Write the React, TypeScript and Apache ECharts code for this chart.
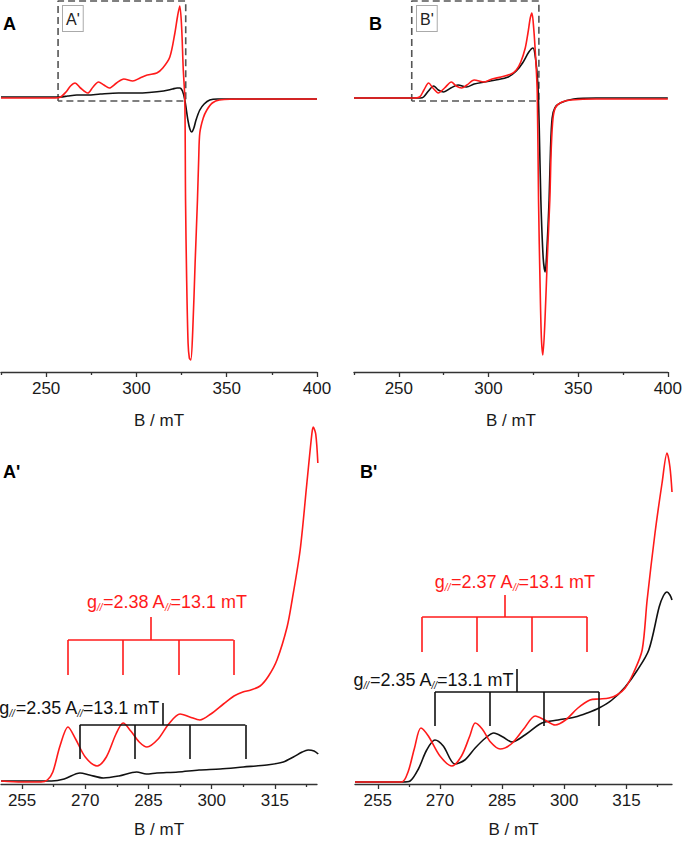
import React, { useEffect, useRef } from "react";
import * as echarts from "echarts";

const FONT = "'Liberation Sans', Arial, Helvetica, sans-serif";
const RED = "#ff1a1a";
const BLACK = "#111111";

// ---------- Top panels (full spectra), x: B / mT, y: intensity (a.u.) ----------
const topTickLabels = [250, 300, 350, 400];
const topMinorTicks = [225, 275, 325, 375];

const topA_red: [number, number][] = [
  [225, 0], [245, 0], [255, 0], [258, 1], [261, 6], [263.5, 12], [266, 15], [269, 10], [273, 5],
  [276, 11], [279, 16], [282, 13], [285, 10], [289, 15], [293, 19], [298, 17], [302, 20], [306, 23],
  [311.3, 25], [314.6, 30], [318.5, 41], [321.3, 65], [322.8, 82], [324, 92], [325, 72], [325.9, 30],
  [326.8, -2], [327.2, -102], [327.8, -180], [328.6, -245], [329.3, -260], [330.1, -262], [331.2, -232],
  [332.5, -165], [333.8, -102], [334.5, -60], [335.1, -35], [337, -20], [339, -12], [342, -5], [346, -2],
  [360, -1], [400, -1],
];
const topA_black: [number, number][] = [
  [225, 1], [255, 1], [258, 1], [262, 2], [267, 3], [273, 3], [280, 4], [290, 5], [300, 5], [307, 5.5],
  [315, 7], [320, 9], [322.5, 10], [324, 10], [325.5, 7], [326.8, -2], [328.5, -22], [329.6, -31],
  [330.6, -34], [331.8, -30], [333, -22], [335.1, -12], [337.5, -6], [340.6, -2], [345, -1], [400, -1],
];
const topB_red: [number, number][] = [
  [225, 0], [258, 0], [261.6, 1], [264, 8], [266.6, 15], [269, 10], [272, 5], [275.5, 10], [279.3, 16],
  [282, 12], [285, 10], [288, 13], [292, 18], [297.6, 16], [302, 19], [307, 21], [312.6, 24], [315.5, 28],
  [318, 36], [320.5, 50], [322, 65], [323.3, 80], [324.2, 85], [325.2, 70], [326.3, 40], [327.2, 5],
  [327.9, -102], [328.8, -190], [329.5, -240], [330.3, -257], [331.5, -222], [332.8, -160], [334.2, -102],
  [335, -50], [336, -20], [337.5, -9], [341, -4], [346, -2], [360, -1], [400, -1],
];
const topB_black: [number, number][] = [
  [225, 0], [262, 0], [263.8, 1], [266.5, 7], [269.4, 12], [272, 8], [275, 6], [279, 10], [283, 13],
  [287.7, 11], [292, 14], [297.6, 16], [304, 18], [311, 21], [315.5, 27], [319, 35], [322.5, 46],
  [324.8, 50], [326.2, 40], [327.5, 15], [328.3, -30], [329.2, -102], [330.5, -160], [331.6, -174],
  [332.6, -150], [333.8, -102], [334.6, -50], [335.5, -20], [337, -10], [340, -5], [347.5, -1], [360, 0],
  [400, 0],
];
// zoom boxes (B range, intensity range)
const boxA = { b0: 256.6, b1: 327.3, i0: -3, i1: 97 };
const boxB = { b0: 257.2, b1: 328.1, i0: -3, i1: 97 };

// ---------- Bottom panels (parallel region) ----------
const botTickLabels = [255, 270, 285, 300, 315];
const botMinorTicks = [262.5, 277.5, 292.5, 307.5, 322.5];

const botA_red: [number, number][] = [
  [250, 3], [255, 2], [259.5, 2], [261, 4], [262.3, 12], [264, 38], [265.9, 57], [267.7, 45], [270, 27],
  [272.8, 18], [275, 27], [277.3, 50], [279, 61], [280.8, 53], [282.8, 42], [284.65, 37], [287.3, 45],
  [289.8, 60], [292.5, 70], [294.8, 67], [297.2, 64], [299.8, 70], [302.8, 80], [305.3, 88], [307.4, 92],
  [309.3, 94], [311.5, 98], [313.5, 108], [315.5, 124], [317.9, 157], [319.1, 184], [321, 234],
  [322.6, 301], [323.8, 351], [324.1, 357], [324.7, 350], [325.2, 321],
];
const botA_black: [number, number][] = [
  [250, 3], [258, 3], [262, 3], [265, 5], [268.75, 11], [271, 9], [274.3, 6], [278, 8], [282.2, 12],
  [284.5, 10], [287, 11], [292, 12], [297, 14], [302, 15], [307.5, 17], [313.1, 19], [317, 22],
  [319.4, 27], [321.5, 32], [322.9, 34], [324.3, 33], [325.3, 30],
];
const botB_red: [number, number][] = [
  [249.5, 2], [255, 2], [260.8, 2], [262.3, 12], [263.8, 35], [265.4, 56], [267.2, 48], [270, 28],
  [272.9, 18], [275.2, 28], [277.2, 48], [278.5, 61], [280.2, 55], [282.2, 42], [284.5, 35], [287.2, 40],
  [290.2, 55], [293, 68], [295.3, 64], [297.8, 59], [300.3, 64], [303.3, 76], [306.2, 84], [308.3, 85],
  [310.8, 86], [312.7, 89], [314.7, 96], [316.8, 112], [318.8, 134], [320, 184], [321.9, 251],
  [323.6, 301], [324.8, 331], [325.5, 317], [326, 292],
];
const botB_black: [number, number][] = [
  [249.5, 2], [255, 2], [261, 2], [262.8, 3], [264.8, 15], [266.8, 34], [268.8, 44], [270.8, 38],
  [273.6, 20], [276, 24], [278.5, 36], [281, 46], [283, 51], [285.2, 47], [287.4, 42], [290.5, 49],
  [294.6, 61], [298.5, 64], [302.6, 67], [305.5, 71], [308.4, 76], [311.5, 84], [314.7, 97],
  [317.5, 113], [320.4, 134], [322.9, 177], [323.9, 188], [324.8, 192], [325.5, 189], [326, 184],
];

// Stick diagrams (hyperfine lines)
const sticksA_red = { lines: [265.9, 279.0, 292.1, 305.2], stem: 285.6, low: 109, bar: 144, top: 167, labelAt: [289.4, 182], text: "2.38" };
const sticksA_black = { lines: [268.7, 281.8, 294.9, 308.0], stem: 288.4, low: 25, bar: 59, top: 81, labelAt: [287.7, 76], text: "2.35" };
const sticksB_red = { lines: [265.7, 278.9, 292.2, 305.5], stem: 285.7, low: 132, bar: 167, top: 189, labelAt: [288.1, 202], text: "2.37" };
const sticksB_black = { lines: [268.8, 282.0, 295.1, 308.4], stem: 288.6, low: 58, bar: 92, top: 115, labelAt: [287.9, 104], text: "2.35" };
const hyperfineA = "13.1";

function xMain(gridIndex: number, min: number, max: number, labels: number[], nameGap: number) {
  return {
    type: "value", gridIndex, min, max, position: "bottom",
    axisLine: { show: true, onZero: false, lineStyle: { color: "#333", width: 1.3 } },
    axisTick: { show: true, customValues: labels, length: 5, inside: false, lineStyle: { color: "#333", width: 1.3 } },
    axisLabel: { show: true, customValues: labels, fontSize: 17, color: "#1a1a1a", fontFamily: FONT, margin: 8 },
    splitLine: { show: false },
    name: "B / mT", nameLocation: "middle", nameGap,
    nameTextStyle: { fontSize: 17, color: "#1a1a1a", fontFamily: FONT },
  };
}
function xMinor(gridIndex: number, min: number, max: number, minors: number[]) {
  return {
    type: "value", gridIndex, min, max, position: "bottom", offset: 0,
    axisLine: { show: false, onZero: false },
    axisTick: { show: true, customValues: minors, length: 3, inside: false, lineStyle: { color: "#333", width: 1.3 } },
    axisLabel: { show: false },
    splitLine: { show: false },
  };
}
function yHidden(gridIndex: number, min: number, max: number) {
  return { type: "value", gridIndex, min, max, show: false, splitLine: { show: false } };
}
function curve(data: [number, number][], color: string, xi: number, yi: number) {
  return {
    type: "line", xAxisIndex: xi, yAxisIndex: yi, data, showSymbol: false, symbol: "none",
    smooth: 0.3, clip: false, silent: true,
    lineStyle: { color, width: 1.6 },
  };
}
function dashedBox(b: { b0: number; b1: number; i0: number; i1: number }, xi: number, yi: number) {
  return {
    type: "line", xAxisIndex: xi, yAxisIndex: yi, showSymbol: false, symbol: "none", silent: true, clip: false,
    data: [[b.b0, b.i0], [b.b0, b.i1], [b.b1, b.i1], [b.b1, b.i0], [b.b0, b.i0]],
    lineStyle: { color: "#555", width: 1.6, type: [7, 4] },
  };
}
function sticks(s: any, color: string, xi: number, yi: number, centered: boolean) {
  const segs: any[] = [];
  segs.push([{ coord: [s.lines[0], s.bar] }, { coord: [s.lines[s.lines.length - 1], s.bar] }]);
  s.lines.forEach((b: number) => segs.push([{ coord: [b, s.low] }, { coord: [b, s.bar] }]));
  segs.push([{ coord: [s.stem, s.bar] }, { coord: [s.stem, s.top] }]);
  return {
    type: "scatter", xAxisIndex: xi, yAxisIndex: yi, silent: true,
    data: [s.labelAt], symbolSize: 1, itemStyle: { color: "rgba(0,0,0,0)" },
    label: {
      show: true,
      position: centered ? "inside" : "left",
      distance: 0,
      opacity: 1,
      textBorderWidth: 0,
      formatter: `{n|g}{s|//}{n|=${s.text} A}{s|//}{n|=${hyperfineA} mT}`,
      rich: {
        n: { fontSize: 18, color, fontFamily: FONT, lineHeight: 21, textBorderWidth: 0 },
        s: { fontSize: 10, color, fontFamily: FONT, fontStyle: "italic", verticalAlign: "bottom", lineHeight: 15, textBorderWidth: 0 },
      },
    },
    markLine: {
      silent: true, symbol: ["none", "none"], animation: false,
      label: { show: false },
      lineStyle: { color, width: 1.6, type: "solid" },
      data: segs,
    },
  };
}

export default function App() {
  const ref = useRef<HTMLDivElement>(null);
  useEffect(() => {
    if (!ref.current) return;
    const chart = echarts.init(ref.current, null, { renderer: "svg" });
    const option: any = {
      animation: false,
      backgroundColor: "#ffffff",
      grid: [
        { left: 1, top: 0, width: 316, height: 372 },
        { left: 354, top: 0, width: 316, height: 372 },
        { left: 1, top: 420, width: 316, height: 364 },
        { left: 355, top: 420, width: 317, height: 364 },
      ],
      xAxis: [
        xMain(0, 225, 400, topTickLabels, 40), xMinor(0, 225, 400, topMinorTicks),
        xMain(1, 225, 400, topTickLabels, 40), xMinor(1, 225, 400, topMinorTicks),
        xMain(2, 250, 325, botTickLabels, 37), xMinor(2, 250, 325, botMinorTicks),
        xMain(3, 249.5, 326, botTickLabels, 37), xMinor(3, 249.5, 326, botMinorTicks),
      ],
      yAxis: [yHidden(0, -274, 98), yHidden(1, -274, 98), yHidden(2, 0, 364), yHidden(3, 0, 364)],
      series: [
        dashedBox(boxA, 0, 0),
        curve(topA_black, BLACK, 0, 0),
        curve(topA_red, RED, 0, 0),
        dashedBox(boxB, 2, 1),
        curve(topB_black, BLACK, 2, 1),
        curve(topB_red, RED, 2, 1),
        curve(botA_black, BLACK, 4, 2),
        curve(botA_red, RED, 4, 2),
        sticks(sticksA_red, RED, 4, 2, true),
        sticks(sticksA_black, BLACK, 4, 2, false),
        curve(botB_black, BLACK, 6, 3),
        curve(botB_red, RED, 6, 3),
        sticks(sticksB_red, RED, 6, 3, true),
        sticks(sticksB_black, BLACK, 6, 3, false),
      ],
      graphic: [
        { type: "text", left: 3, top: 15, style: { text: "A", font: `bold 18px ${FONT}`, fill: "#000" } },
        { type: "text", left: 369, top: 15, style: { text: "B", font: `bold 18px ${FONT}`, fill: "#000" } },
        { type: "text", left: 3, top: 463, style: { text: "A'", font: `bold 18px ${FONT}`, fill: "#000" } },
        { type: "text", left: 360, top: 463, style: { text: "B'", font: `bold 18px ${FONT}`, fill: "#000" } },
        {
          type: "text", left: 62, top: 5,
          style: { text: "A'", font: `16px ${FONT}`, fill: "#222", backgroundColor: "#fff", borderColor: "#aaa", borderWidth: 1, padding: [5, 3, 4, 3] },
        },
        {
          type: "text", left: 416, top: 5,
          style: { text: "B'", font: `16px ${FONT}`, fill: "#222", backgroundColor: "#fff", borderColor: "#aaa", borderWidth: 1, padding: [5, 3, 4, 3] },
        },
      ],
    };
    chart.setOption(option);
    return () => chart.dispose();
  }, []);
  return (
    <div
      ref={ref}
      style={{ position: "fixed", left: 0, top: 0, width: 685, height: 841, background: "#fff" }}
    />
  );
}
